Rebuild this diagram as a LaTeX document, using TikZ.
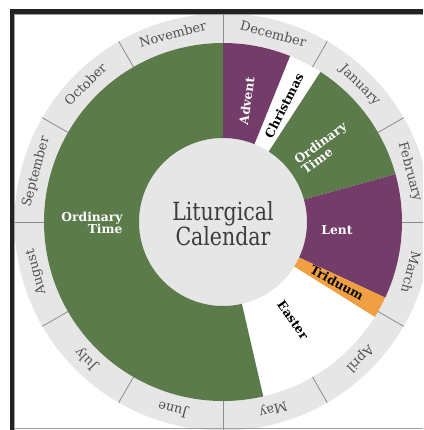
\documentclass[tikz,border=0pt]{standalone}
\usepackage{fontspec}
\setmainfont{DejaVu Serif}
\definecolor{otgreen}{HTML}{5B7B4B}
\definecolor{lentpurple}{HTML}{743D69}
\definecolor{tridorange}{HTML}{F0A043}
\definecolor{ringgray}{HTML}{E6E6E6}
\definecolor{divgray}{HTML}{8C8C8C}
\definecolor{monthtext}{HTML}{505050}
\definecolor{centertext}{HTML}{3C3C3C}
\definecolor{framebk}{HTML}{222222}
\definecolor{framegray}{HTML}{A0A0A0}
\newcommand\annsec[3]{\fill[#1] (#2:84) arc[start angle=#2,end angle=#3,radius=84] -- (#3:179) arc[start angle=#3,end angle=#2,radius=179] -- cycle;}
\tikzset{
  monthlabel/.style={font=\fontsize{13}{14}\selectfont, text=monthtext, inner sep=0pt, text height=0.72em, text depth=0.2em},
  seglabel/.style={font=\fontsize{12.3}{12.5}\selectfont\bfseries, inner sep=0pt},
  divider/.style={draw=divgray, line width=0.8pt}
}
\begin{document}
\begin{tikzpicture}[x=1pt,y=1pt]
\useasboundingbox (-223,-208) rectangle (200,222);
\clip (-223,-208) rectangle (200,222);
\fill[white] (-223,-208) rectangle (200,222);
% month ring and centre disc
\fill[ringgray, even odd rule] (0,0) circle (208.5) (0,0) circle (179);
\fill[ringgray] (0,0) circle (84);
% seasons
\annsec{otgreen}{90}{283}
\annsec{lentpurple}{68}{90}
\annsec{otgreen}{15.5}{57}
\annsec{lentpurple}{-25}{15.5}
\annsec{tridorange}{-32}{-25}
% month dividers
\foreach \a in {0,30,...,330} \draw[divider] (\a:179) -- (\a:208.5);
% month labels
\foreach \nm/\ang in {December/75,January/45,February/15,March/-15,April/-45,May/-75,June/-105,July/-135,August/-165,September/165,October/135,November/105}
  \node[monthlabel, rotate=\ang-90] (m\nm) at (\ang:192.5) {\nm};
% centre text
\node[font=\fontsize{25}{23}\selectfont, text=centertext, align=center, xscale=0.82] (title) at (0,-1.5) {Liturgical\\Calendar};
% season labels
\node[seglabel, text=white, rotate=82] (advent) at (23.7,121) {Advent};
\node[seglabel, text=black, rotate=63] (christmas) at (61,116) {Christmas};
\node[seglabel, text=white, rotate=36, align=left] (ot1) at (101,74) {Ordinary\\Time};
\node[seglabel, text=white] (lent) at (114,-8) {Lent};
\node[seglabel, text=black, rotate=-29] (triduum) at (114,-61) {Triduum};
\node[seglabel, text=black, rotate=-55] (easter) at (70,-98) {Easter};
\node[seglabel, text=white, align=right] (ot2) at (-131,-1) {Ordinary\\Time};
% frame
\fill[framebk] (-213,-208) rectangle (-209,213);
\fill[framebk] (-213,208) rectangle (200,213);
\draw[framegray, line width=0.8pt] (-208.6,-208) -- (-208.6,207.6) -- (200,207.6);
\draw[framegray, line width=0.8pt] (-209,-206.2) -- (200,-206.2);
\end{tikzpicture}
\end{document}
